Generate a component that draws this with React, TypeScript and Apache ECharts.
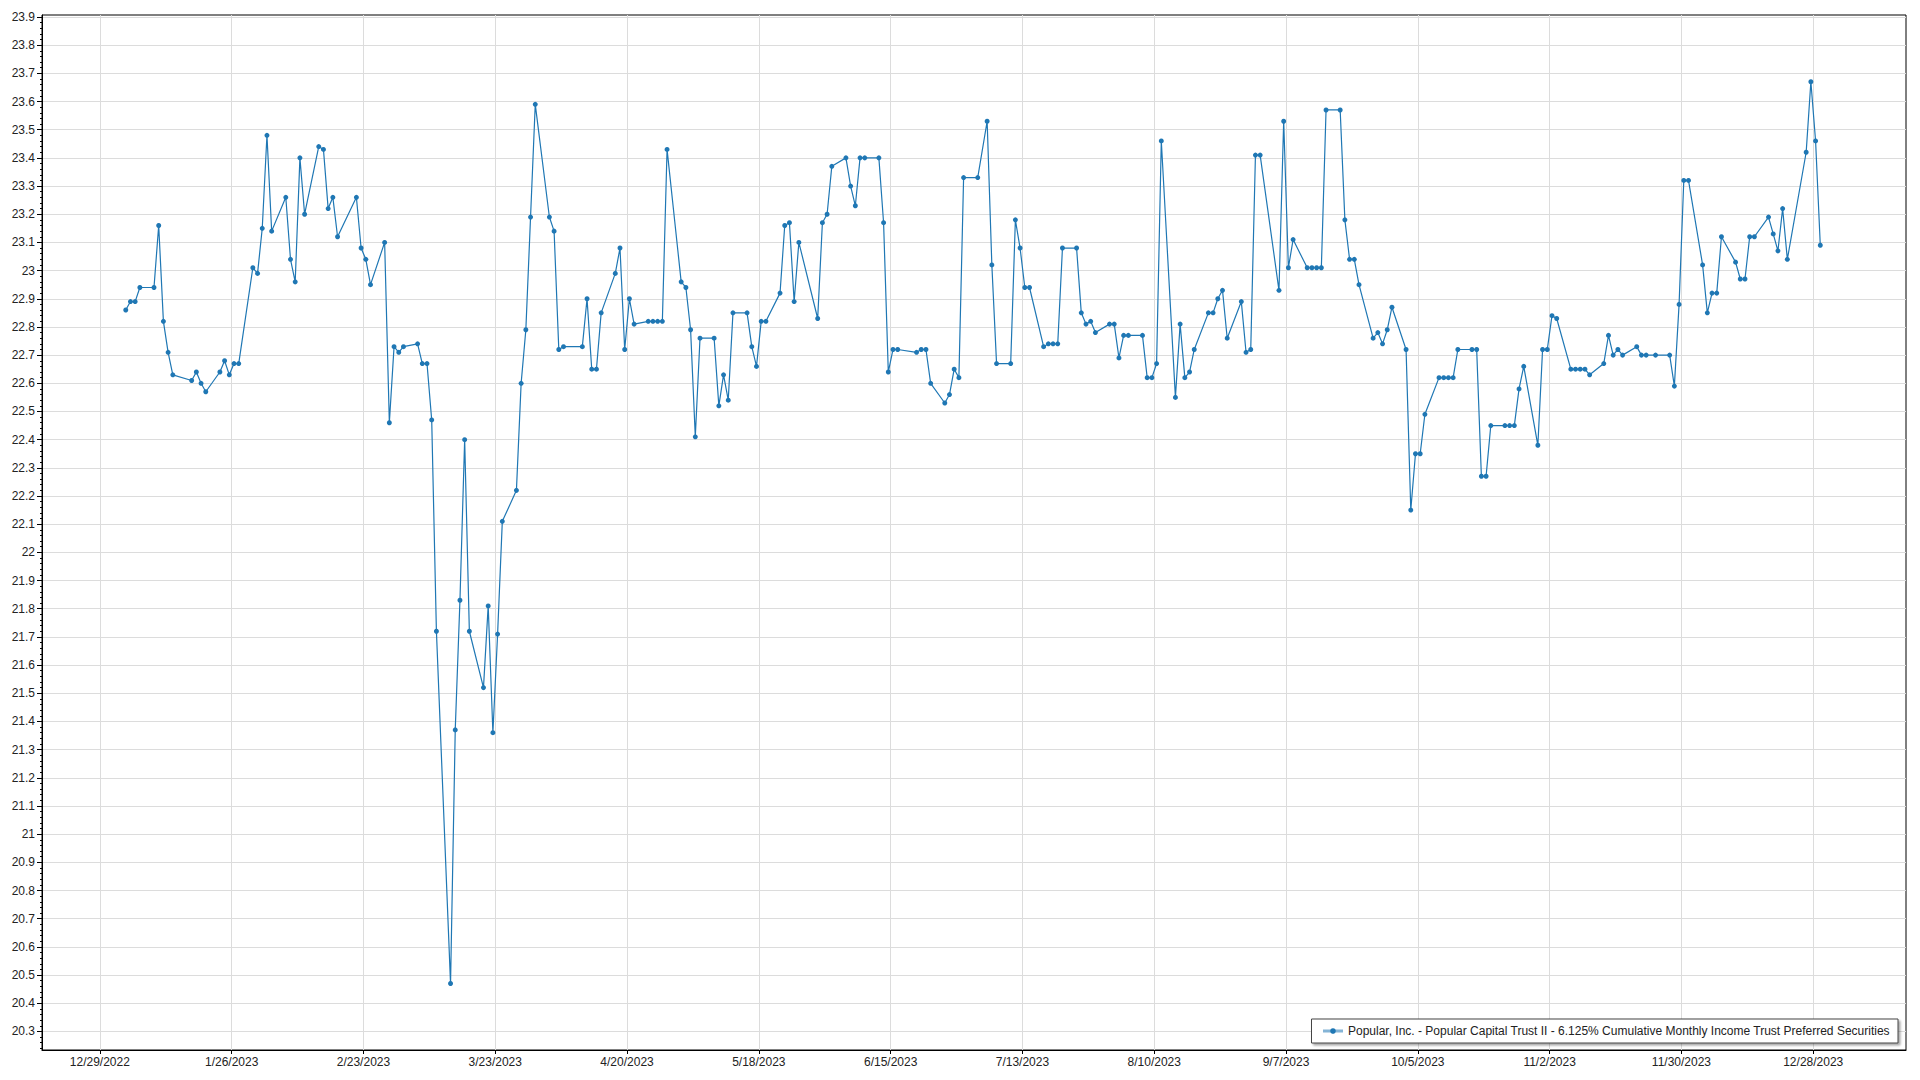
import React, { useEffect, useRef } from "react";
import * as echarts from "echarts";

const seriesName =
  "Popular, Inc. - Popular Capital Trust II - 6.125% Cumulative Monthly Income Trust Preferred Securities";

const dates: string[] = [
  "2023-01-03","2023-01-04","2023-01-05","2023-01-06","2023-01-09","2023-01-10","2023-01-11","2023-01-12","2023-01-13",
  "2023-01-17","2023-01-18","2023-01-19","2023-01-20","2023-01-23","2023-01-24","2023-01-25","2023-01-26","2023-01-27",
  "2023-01-30","2023-01-31","2023-02-01","2023-02-02","2023-02-03","2023-02-06","2023-02-07","2023-02-08","2023-02-09","2023-02-10",
  "2023-02-13","2023-02-14","2023-02-15","2023-02-16","2023-02-17","2023-02-21","2023-02-22","2023-02-23","2023-02-24",
  "2023-02-27","2023-02-28","2023-03-01","2023-03-02","2023-03-03","2023-03-06","2023-03-07","2023-03-08","2023-03-09","2023-03-10",
  "2023-03-13","2023-03-14","2023-03-15","2023-03-16","2023-03-17","2023-03-20","2023-03-21","2023-03-22","2023-03-23","2023-03-24",
  "2023-03-27","2023-03-28","2023-03-29","2023-03-30","2023-03-31","2023-04-03","2023-04-04","2023-04-05","2023-04-06",
  "2023-04-10","2023-04-11","2023-04-12","2023-04-13","2023-04-14","2023-04-17","2023-04-18","2023-04-19","2023-04-20","2023-04-21",
  "2023-04-24","2023-04-25","2023-04-26","2023-04-27","2023-04-28","2023-05-01","2023-05-02","2023-05-03","2023-05-04","2023-05-05",
  "2023-05-08","2023-05-09","2023-05-10","2023-05-11","2023-05-12","2023-05-15","2023-05-16","2023-05-17","2023-05-18","2023-05-19",
  "2023-05-22","2023-05-23","2023-05-24","2023-05-25","2023-05-26","2023-05-30","2023-05-31","2023-06-01","2023-06-02",
  "2023-06-05","2023-06-06","2023-06-07","2023-06-08","2023-06-09","2023-06-12","2023-06-13","2023-06-14","2023-06-15","2023-06-16",
  "2023-06-20","2023-06-21","2023-06-22","2023-06-23","2023-06-26","2023-06-27","2023-06-28","2023-06-29","2023-06-30",
  "2023-07-03","2023-07-05","2023-07-06","2023-07-07","2023-07-10","2023-07-11","2023-07-12","2023-07-13","2023-07-14",
  "2023-07-17","2023-07-18","2023-07-19","2023-07-20","2023-07-21","2023-07-24","2023-07-25","2023-07-26","2023-07-27","2023-07-28",
  "2023-07-31","2023-08-01","2023-08-02","2023-08-03","2023-08-04","2023-08-07","2023-08-08","2023-08-09","2023-08-10","2023-08-11",
  "2023-08-14","2023-08-15","2023-08-16","2023-08-17","2023-08-18","2023-08-21","2023-08-22","2023-08-23","2023-08-24","2023-08-25",
  "2023-08-28","2023-08-29","2023-08-30","2023-08-31","2023-09-01","2023-09-05","2023-09-06","2023-09-07","2023-09-08",
  "2023-09-11","2023-09-12","2023-09-13","2023-09-14","2023-09-15","2023-09-18","2023-09-19","2023-09-20","2023-09-21","2023-09-22",
  "2023-09-25","2023-09-26","2023-09-27","2023-09-28","2023-09-29","2023-10-02","2023-10-03","2023-10-04","2023-10-05","2023-10-06",
  "2023-10-09","2023-10-10","2023-10-11","2023-10-12","2023-10-13","2023-10-16","2023-10-17","2023-10-18","2023-10-19","2023-10-20",
  "2023-10-23","2023-10-24","2023-10-25","2023-10-26","2023-10-27","2023-10-30","2023-10-31","2023-11-01","2023-11-02","2023-11-03",
  "2023-11-06","2023-11-07","2023-11-08","2023-11-09","2023-11-10","2023-11-13","2023-11-14","2023-11-15","2023-11-16","2023-11-17",
  "2023-11-20","2023-11-21","2023-11-22","2023-11-24","2023-11-27","2023-11-28","2023-11-29","2023-11-30","2023-12-01",
  "2023-12-04","2023-12-05","2023-12-06","2023-12-07","2023-12-08","2023-12-11","2023-12-12","2023-12-13","2023-12-14","2023-12-15",
  "2023-12-18","2023-12-19","2023-12-20","2023-12-21","2023-12-22","2023-12-26","2023-12-27","2023-12-28","2023-12-29",
];

const prices: number[] = [
  22.86, 22.89, 22.89, 22.94, 22.94, 23.16, 22.82, 22.71, 22.63,
  22.61, 22.64, 22.6, 22.57, 22.64, 22.68, 22.63, 22.67, 22.67,
  23.01, 22.99, 23.15, 23.48, 23.14, 23.26, 23.04, 22.96, 23.4, 23.2,
  23.44, 23.43, 23.22, 23.26, 23.12, 23.26, 23.08, 23.04, 22.95,
  23.1, 22.46, 22.73, 22.71, 22.73, 22.74, 22.67, 22.67, 22.47, 21.72,
  20.47, 21.37, 21.83, 22.4, 21.72, 21.52, 21.81, 21.36, 21.71, 22.11,
  22.22, 22.6, 22.79, 23.19, 23.59, 23.19, 23.14, 22.72, 22.73,
  22.73, 22.9, 22.65, 22.65, 22.85, 22.99, 23.08, 22.72, 22.9, 22.81,
  22.82, 22.82, 22.82, 22.82, 23.43, 22.96, 22.94, 22.79, 22.41, 22.76,
  22.76, 22.52, 22.63, 22.54, 22.85, 22.85, 22.73, 22.66, 22.82, 22.82,
  22.92, 23.16, 23.17, 22.89, 23.1, 22.83, 23.17, 23.2, 23.37,
  23.4, 23.3, 23.23, 23.4, 23.4, 23.4, 23.17, 22.64, 22.72, 22.72,
  22.71, 22.72, 22.72, 22.6, 22.53, 22.56, 22.65, 22.62, 23.33,
  23.33, 23.53, 23.02, 22.67, 22.67, 23.18, 23.08, 22.94, 22.94,
  22.73, 22.74, 22.74, 22.74, 23.08, 23.08, 22.85, 22.81, 22.82, 22.78,
  22.81, 22.81, 22.69, 22.77, 22.77, 22.77, 22.62, 22.62, 22.67, 23.46,
  22.55, 22.81, 22.62, 22.64, 22.72, 22.85, 22.85, 22.9, 22.93, 22.76,
  22.89, 22.71, 22.72, 23.41, 23.41, 22.93, 23.53, 23.01, 23.11,
  23.01, 23.01, 23.01, 23.01, 23.57, 23.57, 23.18, 23.04, 23.04, 22.95,
  22.76, 22.78, 22.74, 22.79, 22.87, 22.72, 22.15, 22.35, 22.35, 22.49,
  22.62, 22.62, 22.62, 22.62, 22.72, 22.72, 22.72, 22.27, 22.27, 22.45,
  22.45, 22.45, 22.45, 22.58, 22.66, 22.38, 22.72, 22.72, 22.84, 22.83,
  22.65, 22.65, 22.65, 22.65, 22.63, 22.67, 22.77, 22.7, 22.72, 22.7,
  22.73, 22.7, 22.7, 22.7, 22.7, 22.59, 22.88, 23.32, 23.32,
  23.02, 22.85, 22.92, 22.92, 23.12, 23.03, 22.97, 22.97, 23.12, 23.12,
  23.19, 23.13, 23.07, 23.22, 23.04, 23.42, 23.67, 23.46, 23.09,
];

const xTickDates: string[] = [
  "2022-12-29","2023-01-26","2023-02-23","2023-03-23","2023-04-20","2023-05-18","2023-06-15",
  "2023-07-13","2023-08-10","2023-09-07","2023-10-05","2023-11-02","2023-11-30","2023-12-28",
];

const yTicks: number[] = [
  20.3, 20.4, 20.5, 20.6, 20.7, 20.8, 20.9, 21, 21.1, 21.2, 21.3, 21.4, 21.5, 21.6, 21.7, 21.8, 21.9,
  22, 22.1, 22.2, 22.3, 22.4, 22.5, 22.6, 22.7, 22.8, 22.9, 23, 23.1, 23.2, 23.3, 23.4, 23.5, 23.6,
  23.7, 23.8, 23.9,
];

const toTs = (s: string, hour = 0) => Date.parse(s + "T00:00:00Z") + hour * 3600000;

export default function App() {
  const ref = useRef<HTMLDivElement>(null);

  useEffect(() => {
    if (!ref.current) return;
    const chart = echarts.init(ref.current, undefined, { renderer: "svg" });
    const font = "'Liberation Sans', Arial, sans-serif";
    const data = dates.map((d, i) => [toTs(d, 12), prices[i]]);
    const xTicks = xTickDates.map((d) => toTs(d));
    chart.setOption({
      animation: false,
      backgroundColor: "#ffffff",
      textStyle: { fontFamily: font },
      grid: {
        left: 42,
        right: 14,
        top: 15,
        bottom: 30,
        show: true,
        borderColor: "#000",
        borderWidth: 1,
        containLabel: false,
      },
      legend: {
        show: true,
        data: [seriesName],
        right: 22,
        bottom: 37,
        orient: "horizontal",
        backgroundColor: "#ffffff",
        borderColor: "#444",
        borderWidth: 1,
        borderRadius: 0,
        padding: [6, 8, 6, 10],
        itemWidth: 20,
        itemHeight: 7,
        itemGap: 6,
        lineStyle: { width: 3, color: "rgba(31,119,180,0.55)" },
        itemStyle: { color: "#1f77b4" },
        shadowColor: "rgba(0,0,0,0.35)",
        shadowBlur: 2,
        shadowOffsetX: 2,
        shadowOffsetY: 2,
        textStyle: { fontFamily: font, fontSize: 12, color: "#222" },
      },
      xAxis: {
        type: "value",
        min: toTs("2022-12-16", 17),
        max: toTs("2024-01-16", 17),
        axisLine: { show: true, lineStyle: { color: "#000", width: 1 } },
        axisTick: { show: true, length: 4, customValues: xTicks, lineStyle: { color: "#000" } },
        axisLabel: {
          customValues: xTicks,
          fontFamily: font,
          fontSize: 12,
          color: "#222",
          margin: 6,
          formatter: (v: number) => {
            const d = new Date(v);
            return `${d.getUTCMonth() + 1}/${d.getUTCDate()}/${d.getUTCFullYear()}`;
          },
        },
        splitLine: { show: true, lineStyle: { color: "#dcdcdc", width: 1 } },
      },
      yAxis: {
        type: "value",
        min: 20.234,
        max: 23.907,
        splitNumber: 37,
        axisLine: { show: true, lineStyle: { color: "#000", width: 1 } },
        axisTick: { show: true, length: 5, customValues: yTicks, lineStyle: { color: "#000" } },
        minorTick: { show: true, splitNumber: 5, length: 2, lineStyle: { color: "#000" } },
        axisLabel: {
          customValues: yTicks,
          fontFamily: font,
          fontSize: 12,
          color: "#222",
          margin: 7,
          formatter: (v: number) => String(Number(v.toFixed(1))),
        },
        splitLine: { show: true, lineStyle: { color: "#dcdcdc", width: 1 } },
      },
      series: [
        {
          name: seriesName,
          type: "line",
          data,
          symbol: "circle",
          symbolSize: 5,
          showAllSymbol: true,
          lineStyle: { color: "#1f77b4", width: 1.2 },
          itemStyle: { color: "#1f77b4" },
        },
      ],
    });
    return () => chart.dispose();
  }, []);

  return (
    <div
      ref={ref}
      style={{ position: "fixed", left: 0, top: 0, width: 1920, height: 1080, background: "#fff" }}
    />
  );
}
